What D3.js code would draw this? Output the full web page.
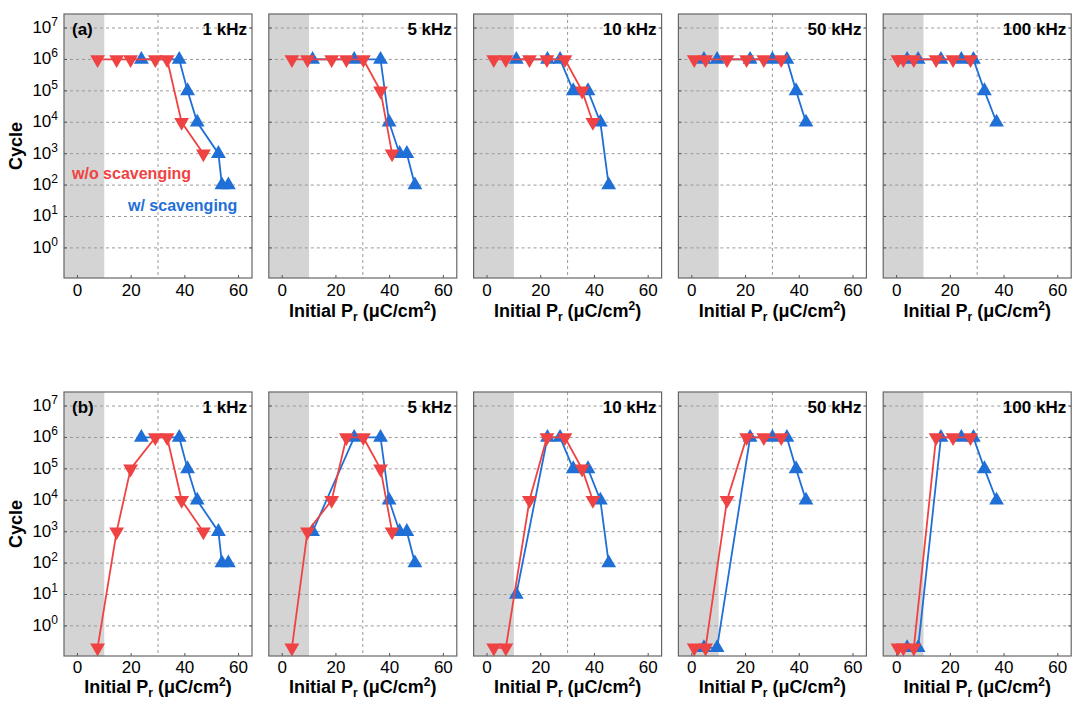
<!DOCTYPE html>
<html>
<head>
<meta charset="utf-8">
<script src="https://cdn.jsdelivr.net/npm/d3@7"></script>
<style>
  body { margin: 0; background: #fff; }
  text { font-family: "Liberation Sans", Arial, sans-serif; }
</style>
</head>
<body>
<div id="chart"></div>
<script>
// frequencies (one column each) and row labels
var freqs = ["1 kHz", "5 kHz", "10 kHz", "50 kHz", "100 kHz"];
var rowLabels = ["(a)", "(b)"];

// w/o scavenging (red, down triangles): initial Pr and cycles for row (a) and (b)
var redPr = [
    [7.5, 14.6, 19.8, 29.0, 33.4, 38.8, 46.9],
    [3.6, 9.4, 18.4, 23.9, 30.2, 36.6, 40.9],
    [2.5, 7.0, 15.8, 22.3, 29.0, 35.4, 39.4],
    [0.9, 5.1, 13.1, 20.4, 26.8, 33.3],
    [0.5, 2.5, 6.4, 14.7, 21.0, 27.5]
];
var redCycA = [
    [1e6, 1e6, 1e6, 1e6, 1e6, 1e4, 1e3],
    [1e6, 1e6, 1e6, 1e6, 1e6, 1e5, 1e3],
    [1e6, 1e6, 1e6, 1e6, 1e6, 1e5, 1e4],
    [1e6, 1e6, 1e6, 1e6, 1e6, 1e6],
    [1e6, 1e6, 1e6, 1e6, 1e6, 1e6]
];
var redCycB = [
    [0.2, 1e3, 1e5, 1e6, 1e6, 1e4, 1e3],
    [0.2, 1e3, 1e4, 1e6, 1e6, 1e5, 1e3],
    [0.2, 0.2, 1e4, 1e6, 1e6, 1e5, 1e4],
    [0.2, 0.2, 1e4, 1e6, 1e6, 1e6],
    [0.2, 0.2, 0.2, 1e6, 1e6, 1e6]
];

// w/ scavenging (blue, up triangles)
var bluePr = [
    [23.8, 37.9, 41.0, 44.6, 52.5, 53.8, 56.2],
    [11.3, 26.8, 36.6, 39.8, 43.7, 46.4, 49.4],
    [10.9, 22.5, 27.2, 32.1, 37.6, 42.2, 45.3],
    [4.5, 9.4, 21.7, 30.0, 35.4, 38.8, 42.5],
    [3.9, 8.0, 16.5, 24.1, 28.6, 32.7, 37.2]
];
var blueCycA = [
    [1e6, 1e6, 1e5, 1e4, 1e3, 1e2, 1e2],
    [1e6, 1e6, 1e6, 1e4, 1e3, 1e3, 1e2],
    [1e6, 1e6, 1e6, 1e5, 1e5, 1e4, 1e2],
    [1e6, 1e6, 1e6, 1e6, 1e6, 1e5, 1e4],
    [1e6, 1e6, 1e6, 1e6, 1e6, 1e5, 1e4]
];
var blueCycB = [
    [1e6, 1e6, 1e5, 1e4, 1e3, 1e2, 1e2],
    [1e3, 1e6, 1e6, 1e4, 1e3, 1e3, 1e2],
    [10, 1e6, 1e6, 1e5, 1e5, 1e4, 1e2],
    [0.2, 0.2, 1e6, 1e6, 1e6, 1e5, 1e4],
    [0.2, 0.2, 1e6, 1e6, 1e6, 1e5, 1e4]
];

var xTicks = [0, 20, 40, 60];
var yTicks = [1e0, 1e1, 1e2, 1e3, 1e4, 1e5, 1e6, 1e7];
var shadeRange = [-5, 10];

var red = "#ef4343", blue = "#1f6fd6";
var W = 1073, H = 701;
var pw = 188, ph = 264;
var rowTop = [14, 392];

var svg = d3.select("#chart").append("svg")
    .attr("width", W)
    .attr("height", H);

var x = d3.scaleLinear().domain([-5, 65]).range([0, pw]);
var y = d3.scaleLog().domain([0.11, 2.8e7]).range([ph, 0]);
var tri = d3.symbol().type(d3.symbolTriangle).size(95);

function drawSeries(g, xs, ys, color, down) {
    var pts = xs.map(function(v, i) { return [v, ys[i]]; });
    var line = d3.line()
        .x(function(d) { return x(d[0]); })
        .y(function(d) { return y(d[1]); });
    g.append("path")
        .datum(pts)
        .attr("fill", "none")
        .attr("stroke", color)
        .attr("stroke-width", 1.8)
        .attr("d", line);
    g.selectAll(null)
        .data(pts)
        .enter().append("path")
        .attr("d", tri)
        .attr("fill", color)
        .attr("transform", function(d) {
            return "translate(" + x(d[0]) + "," + y(d[1]) + ")" + (down ? " rotate(180)" : "");
        });
}

rowLabels.forEach(function(rl, r) {
    freqs.forEach(function(f, c) {
        var left = 64 + c * 204.8;
        var g = svg.append("g").attr("transform", "translate(" + left + "," + rowTop[r] + ")");

        // grey region
        g.append("rect")
            .attr("x", x(shadeRange[0]))
            .attr("width", x(shadeRange[1]) - x(shadeRange[0]))
            .attr("y", 0).attr("height", ph)
            .attr("fill", "#d4d4d4");

        // grid
        g.selectAll(null).data(yTicks).enter().append("line")
            .attr("x1", 0).attr("x2", pw)
            .attr("y1", function(d) { return y(d); })
            .attr("y2", function(d) { return y(d); })
            .attr("stroke", "#9a9a9a")
            .attr("stroke-dasharray", "3,3");
        g.append("line")
            .attr("x1", x(30)).attr("x2", x(30))
            .attr("y1", 0).attr("y2", ph)
            .attr("stroke", "#9a9a9a")
            .attr("stroke-dasharray", "3,3");

        // inward tick marks
        yTicks.forEach(function(t) {
            g.append("line").attr("x1", 0).attr("x2", 3).attr("y1", y(t)).attr("y2", y(t)).attr("stroke", "#555");
            g.append("line").attr("x1", pw - 3).attr("x2", pw).attr("y1", y(t)).attr("y2", y(t)).attr("stroke", "#555");
        });
        xTicks.forEach(function(t) {
            g.append("line").attr("x1", x(t)).attr("x2", x(t)).attr("y1", ph - 3).attr("y2", ph).attr("stroke", "#555");
        });

        // data
        drawSeries(g, bluePr[c], r === 0 ? blueCycA[c] : blueCycB[c], blue, false);
        drawSeries(g, redPr[c], r === 0 ? redCycA[c] : redCycB[c], red, true);

        // frame
        g.append("rect")
            .attr("width", pw).attr("height", ph)
            .attr("fill", "none")
            .attr("stroke", "#666")
            .attr("stroke-width", 1.2);

        // x tick labels
        g.selectAll(null).data(xTicks).enter().append("text")
            .attr("x", function(d) { return x(d); })
            .attr("y", ph + (r === 0 ? 18 : 17))
            .attr("text-anchor", "middle")
            .attr("font-size", 17)
            .text(function(d) { return d; });

        // x axis title
        if (!(r === 0 && c === 0)) {
            var t = g.append("text")
                .attr("x", pw / 2)
                .attr("y", ph + (r === 0 ? 39 : 37))
                .attr("text-anchor", "middle")
                .attr("font-size", 18)
                .attr("font-weight", "bold");
            t.append("tspan").text("Initial P");
            t.append("tspan").attr("font-size", 12).attr("dy", 4).text("r");
            t.append("tspan").attr("dy", -4).text(" (\u03bcC/cm");
            t.append("tspan").attr("font-size", 12).attr("dy", -7).text("2");
            t.append("tspan").attr("dy", 7).text(")");
        }

        // frequency label
        g.append("text")
            .attr("x", pw - 5).attr("y", 21)
            .attr("text-anchor", "end")
            .attr("font-size", 17)
            .attr("font-weight", "bold")
            .text(f);

        if (c === 0) {
            g.append("text")
                .attr("x", 8).attr("y", 21)
                .attr("font-size", 17)
                .attr("font-weight", "bold")
                .text(rl);

            // y tick labels 10^n
            yTicks.forEach(function(v) {
                var lt = g.append("text")
                    .attr("x", -6)
                    .attr("y", y(v) + 5)
                    .attr("text-anchor", "end")
                    .attr("font-size", 17);
                lt.append("tspan").text("10");
                lt.append("tspan").attr("font-size", 12).attr("dy", -7).text(Math.round(Math.log10(v)));
            });

            g.append("text")
                .attr("transform", "translate(-42," + (ph / 2) + ") rotate(-90)")
                .attr("text-anchor", "middle")
                .attr("font-size", 18)
                .attr("font-weight", "bold")
                .text("Cycle");

            if (r === 0) {
                g.append("text")
                    .attr("x", 8).attr("y", 165)
                    .attr("font-size", 16)
                    .attr("font-weight", "bold")
                    .attr("fill", red)
                    .text("w/o scavenging");
                g.append("text")
                    .attr("x", 64).attr("y", 197)
                    .attr("font-size", 16)
                    .attr("font-weight", "bold")
                    .attr("fill", blue)
                    .text("w/ scavenging");
            }
        }
    });
});
</script>
</body>
</html>
